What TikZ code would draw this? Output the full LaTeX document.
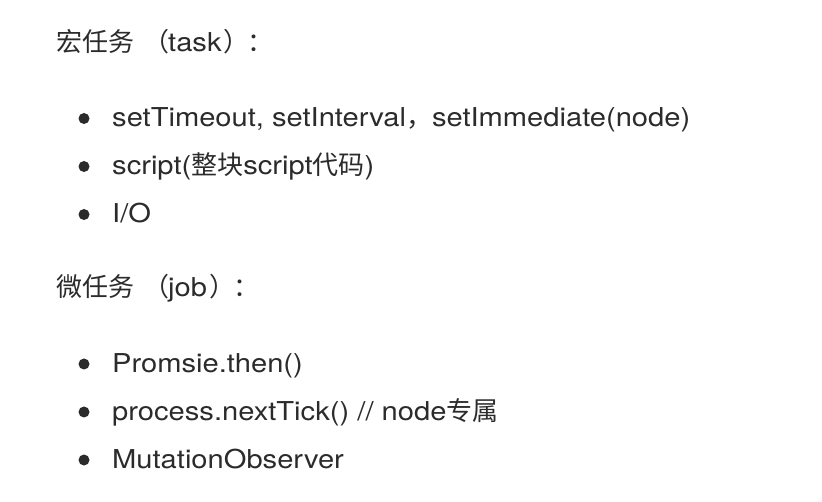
\documentclass[tikz,border=0pt]{standalone}
\usepackage{fontspec}
\setmainfont[FakeStretch=1.12]{TeX Gyre Heros}
\newfontfamily\cjk{Noto Sans CJK SC}
\definecolor{txt}{HTML}{2B2B2B}
\begin{document}
\begin{tikzpicture}[x=1pt,y=-1pt,
  line/.style={anchor=base west,inner sep=0pt,text=txt,font=\fontsize{26}{30}\selectfont},
  head/.style={anchor=base west,inner sep=0pt,text=txt,font=\fontsize{26}{30}\selectfont},
  bul/.style={circle,fill=txt,inner sep=0pt,minimum size=11pt}]
\useasboundingbox (0,0) rectangle (822,502);
\node[head] (h1) at (56,52) {\cjk 宏任务\hspace{9pt}（\hspace{-1pt}\normalfont task\hspace{2pt}\cjk ）\hspace{-2pt}：};
\node[bul] (b1) at (84,118.5) {};
\node[line] (t1) at (112,127) {setTimeout, setInterval\cjk ，\normalfont setImmediate(node)};
\node[bul] (b2) at (84,166.5) {};
\node[line] (t2) at (112,175) {script(\cjk 整块\normalfont script\cjk 代码\normalfont )};
\node[bul] (b3) at (84,214.5) {};
\node[line] (t3) at (112,223) {I/O};
\node[head] (h2) at (56,297) {\cjk 微任务\hspace{9pt}（\hspace{-1pt}\normalfont job\hspace{2pt}\cjk ）\hspace{-2pt}：};
\node[bul] (b4) at (84,364) {};
\node[line] (t4) at (112,372.5) {Promsie.then()};
\node[bul] (b5) at (84,412) {};
\node[line] (t5) at (112,420.5) {process.nextTick() // node\cjk 专属};
\node[bul] (b6) at (84,460) {};
\node[line] (t6) at (112,468) {MutationObserver};
\end{tikzpicture}
\end{document}
